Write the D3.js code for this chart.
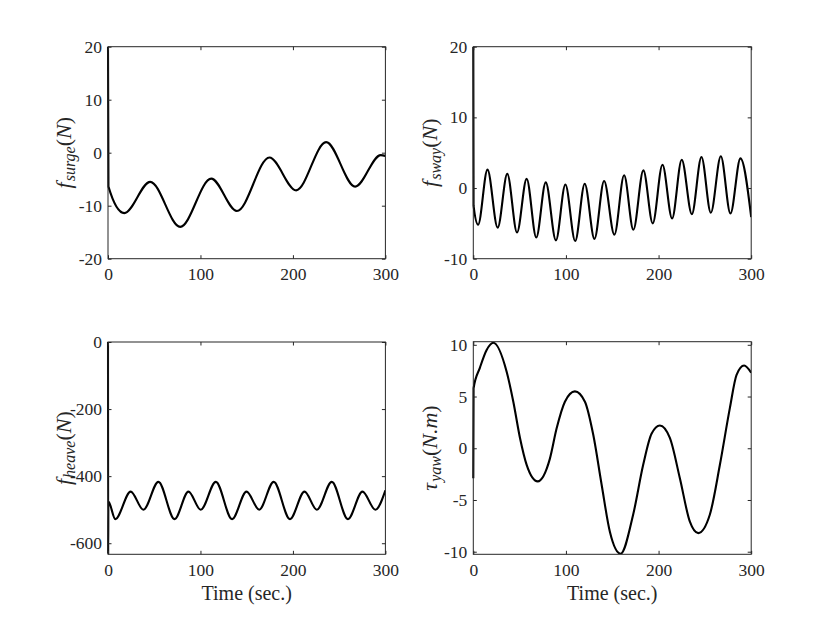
<!DOCTYPE html>
<html>
<head>
<meta charset="utf-8">
<script src="https://cdn.jsdelivr.net/npm/d3@7"></script>
<style>
  body { margin: 0; background: #fff; }
  svg { display: block; }
</style>
</head>
<body>
<div id="chart"></div>
<script>
// Data
const xTicks = [0, 100, 200, 300]

const surgeTime = [0, 0.5, 17.6, 45.7, 78.1, 111.6, 139.4, 174.6, 203.5, 235.9, 267.3, 295, 300]
const surgeForce = [20, -6.4, -11.4, -5.5, -14.0, -4.9, -11.0, -0.9, -7.1, 2.0, -6.4, -0.45, -0.6]
const surgeTicks = [-20, -10, 0, 10, 20]

const swayTime = [0, 0.3, 5.2, 15.3, 26.3, 36.7, 47.2, 57.6, 68, 78.2, 89.2, 99.4, 110, 120.3, 130.8,
  141.2, 152.3, 162.8, 172.8, 183.6, 193.7, 204.2, 214.6, 225, 235.9, 246.3, 256.4, 267.2, 277.6, 288.4, 300]
const swayForce = [20, -2.5, -5.2, 2.6, -5.6, 2.0, -6.3, 1.3, -7.0, 0.8, -7.4, 0.5, -7.5, 0.6, -7.2,
  1.0, -6.6, 1.8, -5.9, 2.5, -5.0, 3.3, -4.3, 4.0, -3.7, 4.4, -3.5, 4.5, -3.6, 4.2, -4.1]
const swayTicks = [-10, 0, 10, 20]

const heaveTime = [0, 0.2, 0.4, 7.9, 24.5, 38.3, 54.5, 72.0, 87.0, 100.3, 116.6, 134.2, 149.8, 163.5,
  179.2, 196.8, 212.5, 225.9, 242.0, 259.5, 275.2, 289.2, 300]
const heaveForce = [0, -633, -476, -528, -446, -500, -417, -528, -446, -500, -417, -528, -446, -500,
  -417, -528, -446, -500, -417, -528, -446, -500, -442]
const heaveTicks = [-600, -400, -200, 0]

const yawTime = [0, 0.3, 7.2, 14.4, 21.6, 36, 43.2, 50.4, 57.6, 69.5, 82.7, 89.9, 98.9, 109.7, 120.5, 129.5,
  138.5, 147.5, 159, 172.6, 183.4, 192.4, 201.4, 212.2, 223, 233.8, 242.8, 255.4, 266.2, 277, 284.2, 292.4, 300]
const yawMoment = [-2.9, 5.8, 7.8, 9.5, 10.2, 7.4, 4.5, 1.0, -1.6, -3.2, -1.0, 1.9, 4.5, 5.5, 4.5, 1.3,
  -3.5, -8.1, -10.2, -6.4, -1.6, 1.4, 2.2, 1.0, -2.9, -7.1, -8.2, -6.4, -1.6, 3.9, 7.1, 8.0, 7.3]
const yawTicks = [-10, -5, 0, 5, 10]

// Layout
const width = 830
const height = 623
const font = '"Liberation Serif", "DejaVu Serif", serif'
const axisColor = '#262626'

const panels = [
  { x: 108, y: 46.7, w: 277.4, h: 212, time: surgeTime, values: surgeForce,
    domain: [-20, 20], ticks: surgeTicks, sym: 'f', sub: 'surge', unit: 'N', labelX: 70.7, xLabel: false },
  { x: 473.3, y: 46.7, w: 277.9, h: 212, time: swayTime, values: swayForce,
    domain: [-10, 20], ticks: swayTicks, sym: 'f', sub: 'sway', unit: 'N', labelX: 437, xLabel: false },
  { x: 108, y: 342, w: 277.4, h: 212.3, time: heaveTime, values: heaveForce,
    domain: [-633, 0], ticks: heaveTicks, sym: 'f', sub: 'heave', unit: 'N', labelX: 70.7, xLabel: true },
  { x: 473.3, y: 341.7, w: 277.9, h: 212.6, time: yawTime, values: yawMoment,
    domain: [-10.25, 10.3], ticks: yawTicks, sym: 'τ', sub: 'yaw', unit: 'N.m', labelX: 436.7, xLabel: true },
]

const svg = d3.select('#chart')
  .append('svg')
  .attr('width', width)
  .attr('height', height)

panels.forEach((p, i) => {
  const xScale = d3.scaleLinear().domain([0, 300]).range([0, p.w])
  const yScale = d3.scaleLinear().domain(p.domain).range([p.h, 0])

  const ctr = svg.append('g')
    .attr('transform', `translate(${p.x}, ${p.y})`)

  // clip a bit wider on the left so the start-up spike at t=0 shows at full width
  ctr.append('clipPath')
    .attr('id', `clip${i}`)
    .append('rect')
    .attr('x', -1.5)
    .attr('width', p.w + 1.5)
    .attr('height', p.h)

  // Curve
  const points = p.time.map((t, j) => [t, p.values[j]])
  const line = d3.line()
    .x(d => xScale(d[0]))
    .y(d => yScale(d[1]))
    .curve(d3.curveMonotoneX)

  ctr.append('path')
    .datum(points)
    .attr('clip-path', `url(#clip${i})`)
    .attr('d', line)
    .attr('fill', 'none')
    .attr('stroke', '#000')
    .attr('stroke-width', 2.1)
    .attr('stroke-linejoin', 'round')

  // Axes, ticks pointing inward on all sides
  const fmt = d => String(d)
  const bottom = ctr.append('g')
    .attr('transform', `translate(0, ${p.h})`)
    .call(d3.axisBottom(xScale).tickValues(xTicks).tickFormat(fmt)
      .tickSizeInner(-3.5).tickSizeOuter(0).tickPadding(9))
  const left = ctr.append('g')
    .call(d3.axisLeft(yScale).tickValues(p.ticks).tickFormat(fmt)
      .tickSizeInner(-3.5).tickSizeOuter(0).tickPadding(6))
  const top = ctr.append('g')
    .call(d3.axisTop(xScale).tickValues(xTicks).tickFormat('')
      .tickSizeInner(-3.5).tickSizeOuter(0))
  const right = ctr.append('g')
    .attr('transform', `translate(${p.w}, 0)`)
    .call(d3.axisRight(yScale).tickValues(p.ticks).tickFormat('')
      .tickSizeInner(-3.5).tickSizeOuter(0))

  ;[bottom, left, top, right].forEach(a => {
    a.select('.domain').remove()
    a.selectAll('line').attr('stroke', axisColor)
    a.selectAll('text')
      .attr('fill', axisColor)
      .style('font-family', font)
      .style('font-size', '17.5px')
  })

  ctr.append('rect')
    .attr('width', p.w)
    .attr('height', p.h)
    .attr('fill', 'none')
    .attr('stroke', axisColor)
    .attr('stroke-width', 1)

  // Y label
  const label = svg.append('text')
    .attr('transform', `translate(${p.labelX}, ${p.y + p.h / 2}) rotate(-90)`)
    .attr('text-anchor', 'middle')
    .attr('fill', axisColor)
    .style('font-family', font)
    .style('font-size', '22px')
  label.append('tspan').attr('font-style', 'italic').text(p.sym)
  label.append('tspan').attr('font-style', 'italic').attr('font-size', '16px')
    .attr('dx', 1).attr('dy', 4).text(p.sub)
  label.append('tspan').attr('dy', -4).text('(')
  label.append('tspan').attr('font-style', 'italic').text(p.unit)
  label.append('tspan').text(')')

  // X label
  if (p.xLabel) {
    svg.append('text')
      .attr('x', p.x + p.w / 2)
      .attr('y', 599.5)
      .attr('text-anchor', 'middle')
      .attr('fill', axisColor)
      .style('font-family', font)
      .style('font-size', '20px')
      .text('Time (sec.)')
  }
})
</script>
</body>
</html>
